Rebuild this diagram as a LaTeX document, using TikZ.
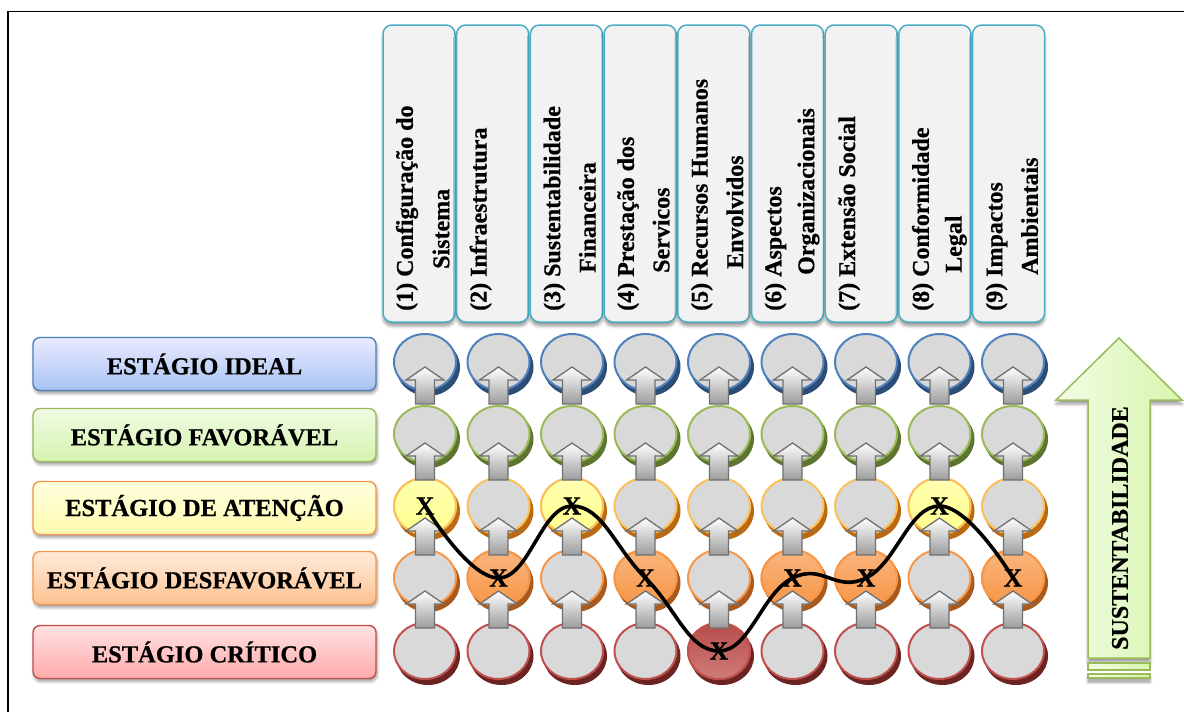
\documentclass[tikz,border=0pt]{standalone}
\usepackage{fontspec}
\setmainfont{Liberation Serif}[BoldFeatures={FakeBold=0.6}]
\usetikzlibrary{shapes.geometric,shadows,shadows.blur}

% palette
\definecolor{blueline}{HTML}{4F81BD}
\definecolor{blueshade}{HTML}{2C4D75}
\definecolor{greenline}{HTML}{9BBB59}
\definecolor{greenshade}{HTML}{5E7531}
\definecolor{yelline}{HTML}{FAC05A}
\definecolor{yelshade}{HTML}{BC6A12}
\definecolor{orline}{HTML}{F79646}
\definecolor{orshade}{HTML}{A95A1C}
\definecolor{redline}{HTML}{C0504D}
\definecolor{redshade}{HTML}{6B2422}
\definecolor{discgray}{HTML}{D9D9D9}
\definecolor{headline}{HTML}{4BACC6}
\definecolor{headfill}{HTML}{F2F2F2}
\definecolor{arrowgray}{HTML}{707070}
\definecolor{arrowshade}{HTML}{9C9C9C}
\definecolor{bigarrowlight}{HTML}{F3FDE6}
\definecolor{bigarrowgreen}{HTML}{D6F5AC}

\begin{document}
\begin{tikzpicture}[x=1pt,y=-1pt,
  stagebox/.style={rounded corners=7pt, minimum width=343pt, minimum height=53pt,
    line width=1.4pt, inner sep=0pt, font=\fontsize{24.5}{28}\selectfont\bfseries,
    blur shadow={shadow xshift=1pt, shadow yshift=-3pt, shadow blur radius=3pt}},
  headbox/.style={draw=headline, fill=headfill, rounded corners=9pt, line width=1.5pt,
    minimum width=72pt, minimum height=297pt, inner sep=0pt,
    blur shadow={shadow xshift=0pt, shadow yshift=-4pt, shadow blur radius=3pt}},
  headtext/.style={rotate=90, anchor=west, inner sep=0pt,
    font=\fontsize{24}{28}\selectfont\bfseries},
  disc/.style={ellipse, minimum width=62pt, minimum height=56pt, inner sep=0pt,
    line width=2pt, fill=discgray},
  xmark/.style={font=\fontsize{26}{28}\selectfont\bfseries, inner sep=0pt},
  trend/.style={line width=3.6pt, line join=round, line cap=round},
  liftarrow/.pic={
    \path[draw=arrowgray, line width=1.3pt, top color=white, bottom color=arrowshade, line join=miter]
      (0,0) -- (19,13) -- (9.5,13) -- (9.5,37) -- (-9.5,37) -- (-9.5,13) -- (-19,13) -- cycle;
  },
]
\useasboundingbox (0,0) rectangle (1184,712);

% frame
\draw[line width=1.8pt] (8,712) -- (8,11.5) -- (1184,11.5);

% stage labels
\node[stagebox, draw=blueline, top color=blue!8, bottom color={rgb,255:red,167;green,195;blue,242}] (ideal) at (204.5,364) {ESTÁGIO IDEAL};
\node[stagebox, draw=greenline, top color={rgb,255:red,241;green,251;blue,228}, bottom color={rgb,255:red,213;green,243;blue,174}] (fav) at (204.5,435) {ESTÁGIO FAVORÁVEL};
\node[stagebox, draw=orline, top color={rgb,255:red,255;green,255;blue,222}, bottom color={rgb,255:red,255;green,251;blue,176}] (aten) at (204.5,508) {ESTÁGIO DE ATENÇÃO};
\node[stagebox, draw=orline, top color={rgb,255:red,255;green,235;blue,219}, bottom color={rgb,255:red,252;green,194;blue,144}] (desf) at (204.5,578) {ESTÁGIO DESFAVORÁVEL};
\node[stagebox, draw=redline, top color={rgb,255:red,255;green,227;blue,227}, bottom color={rgb,255:red,255;green,169;blue,169}] (crit) at (204.5,652) {ESTÁGIO CRÍTICO};

% column headers
\node[headbox] (h1) at (419,173.5) {};
\node[headbox] (h2) at (492.7,173.5) {};
\node[headbox] (h3) at (566.4,173.5) {};
\node[headbox] (h4) at (640.1,173.5) {};
\node[headbox] (h5) at (713.8,173.5) {};
\node[headbox] (h6) at (787.5,173.5) {};
\node[headbox] (h7) at (861.2,173.5) {};
\node[headbox] (h8) at (934.9,173.5) {};
\node[headbox] (h9) at (1008.6,173.5) {};

\node[headtext] (t1a) at (407,311) {(1) Configuração do};
\node[headtext] (t1b) at (441,269) {Sistema};
\node[headtext] (t2a) at (480.7,311) {(2) Infraestrutura};
\node[headtext] (t3a) at (554.4,311) {(3) Sustentabilidade};
\node[headtext] (t3b) at (587.4,273) {Financeira};
\node[headtext] (t4a) at (628.1,311) {(4) Prestação dos};
\node[headtext] (t4b) at (661.1,273) {Servicos};
\node[headtext] (t5a) at (701.8,311) {(5) Recursos Humanos};
\node[headtext] (t5b) at (734.8,269) {Envolvidos};
\node[headtext] (t6a) at (775.5,311) {(6) Aspectos};
\node[headtext] (t6b) at (808.5,275) {Organizacionais};
\node[headtext] (t7a) at (849.2,311) {(7) Extensão Social};
\node[headtext] (t8a) at (922.9,311) {(8) Conformidade};
\node[headtext] (t8b) at (955.9,273) {Legal};
\node[headtext] (t9a) at (996.6,311) {(9) Impactos};
\node[headtext] (t9b) at (1029.6,275) {Ambientais};

% discs with their darker rims
\foreach \r/\yy/\lc/\sc in {1/362/blueline/blueshade, 2/434/greenline/greenshade,
    3/506/yelline/yelshade, 4/578/orline/orshade, 5/651/redline/redshade}{
  \foreach \c in {1,...,9}{
    \pgfmathsetmacro{\xx}{425+(\c-1)*73.5}
    \fill[\sc] (\xx+3,\yy+5) ellipse [x radius=32pt, y radius=29pt];
    \node[disc, draw=\lc] (d-\c-\r) at (\xx,\yy) {};
  }
}

% marked discs
\foreach \c/\r/\fa/\fb/\lc in {1/3/yellow!30/yellow!45/yelline, 3/3/yellow!30/yellow!45/yelline,
    8/3/yellow!30/yellow!45/yelline,
    2/4/orline!70/orline/orline, 4/4/orline!70/orline/orline, 6/4/orline!70/orline/orline,
    7/4/orline!70/orline/orline, 9/4/orline!70/orline/orline,
    5/5/redline!95!black/redline!75/redline}{
  \node[disc, draw=\lc, top color=\fa, bottom color=\fb] at (d-\c-\r) {};
}

% upward arrows between stages
\foreach \c in {1,...,9}{
  \foreach \t in {367,443,518,591}{
    \pic at ({425+(\c-1)*73.5},\t) {liftarrow};
  }
}

% marks
\node[xmark] (m1) at (d-1-3) {X};
\node[xmark] (m2) at (d-2-4) {X};
\node[xmark] (m3) at (d-3-3) {X};
\node[xmark] (m4) at (d-4-4) {X};
\node[xmark] (m5) at (d-5-5) {X};
\node[xmark] (m6) at (d-6-4) {X};
\node[xmark] (m7) at (d-7-4) {X};
\node[xmark] (m8) at (d-8-3) {X};
\node[xmark] (m9) at (d-9-4) {X};

% profile line through the marks
\draw[trend] plot[smooth, tension=0.75] coordinates {(m1.center) (m2.center) (m3.center)
  (m4.center) (m5.center) (m6.center) (m7.center) (m8.center) (m9.center)};

% sustainability arrow
\path[draw=greenline, line width=1.5pt, left color=bigarrowlight, right color=bigarrowgreen,
    blur shadow={shadow xshift=0pt, shadow yshift=-4pt, shadow blur radius=3pt}]
  (1119,338) -- (1182,400) -- (1150,400) -- (1150,658) -- (1088,658) -- (1088,400) -- (1056,400) -- cycle;
\path[draw=greenline, line width=1.2pt, left color=bigarrowlight, right color=bigarrowgreen]
  (1088,663) rectangle (1150,670);
\path[draw=greenline, line width=1.2pt, left color=bigarrowlight, right color=bigarrowgreen,
    blur shadow={shadow xshift=0pt, shadow yshift=-4pt, shadow blur radius=3pt}]
  (1088,674) rectangle (1150,678);
\node[rotate=90, inner sep=0pt, font=\fontsize{24}{28}\selectfont\bfseries] (sust) at (1120,528) {SUSTENTABILIDADE};
\end{tikzpicture}
\end{document}
